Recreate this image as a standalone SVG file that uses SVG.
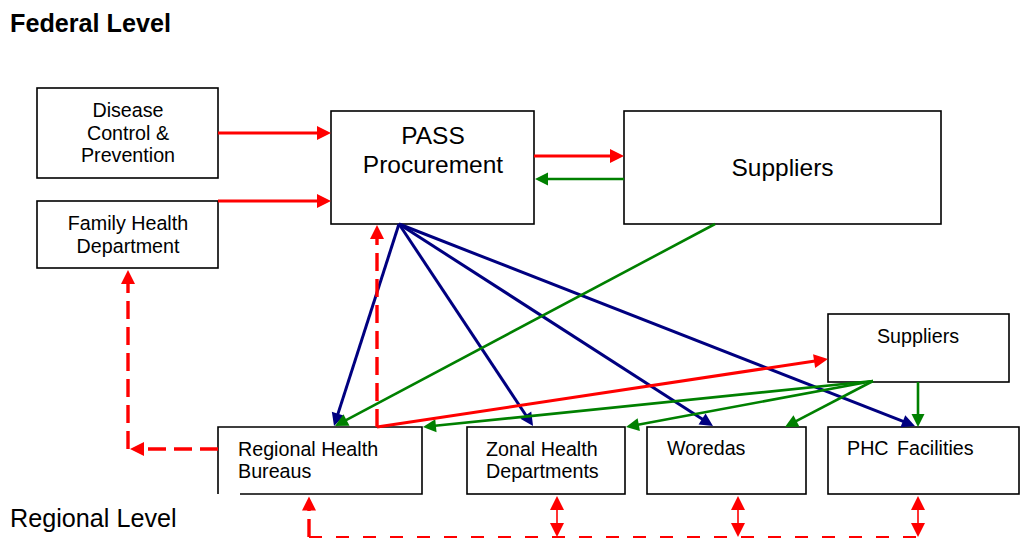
<svg xmlns="http://www.w3.org/2000/svg" width="1021" height="539" viewBox="0 0 1021 539">
  <style>
    .box { fill: #ffffff; stroke: #000000; stroke-width: 1.6; }
    .t { font-family: "Liberation Sans", Arial, sans-serif; fill: #000000; }
    .big { font-size: 24.5px; }
    .small { font-size: 19.7px; }
    .mid { text-anchor: middle; }
    .red { stroke: #ff0000; stroke-width: 3; fill: none; }
    .red-dash { stroke: #ff0000; stroke-width: 3.4; fill: none; stroke-dasharray: 18 8; }
    .red-thin-dash { stroke: #ff0000; stroke-width: 2; fill: none; stroke-dasharray: 13 14; }
    .red-thin { stroke: #ff0000; stroke-width: 1.6; fill: none; }
    .blue { stroke: #000080; stroke-width: 3; fill: none; }
    .green { stroke: #008000; stroke-width: 2.6; fill: none; }
  </style>
  <defs>
    <marker id="headRed" markerUnits="userSpaceOnUse" markerWidth="14" markerHeight="14" viewBox="0 -7 14 14" refX="1" refY="0" orient="auto-start-reverse" overflow="visible">
      <path d="M0,-7 L14,0 L0,7 z" fill="#ff0000"/>
    </marker>
    <marker id="headBlue" markerUnits="userSpaceOnUse" markerWidth="13" markerHeight="13" viewBox="0 -6.5 13 13" refX="1" refY="0" orient="auto" overflow="visible">
      <path d="M0,-6.5 L13,0 L0,6.5 z" fill="#000080"/>
    </marker>
    <marker id="headGreen" markerUnits="userSpaceOnUse" markerWidth="13" markerHeight="13" viewBox="0 -6.5 13 13" refX="1" refY="0" orient="auto" overflow="visible">
      <path d="M0,-6.5 L13,0 L0,6.5 z" fill="#008000"/>
    </marker>
  </defs>

  <!-- level captions -->
  <text class="t" x="10" y="31.5" font-size="25.2" font-weight="bold">Federal Level</text>
  <text class="t" x="10" y="527" font-size="25.2">Regional Level</text>

  <!-- federal nodes -->
  <g id="disease-control">
    <rect class="box" x="37" y="88" width="181" height="90"/>
    <text class="t small mid" x="128" y="116.5">Disease</text>
    <text class="t small mid" x="128" y="139.5">Control &amp;</text>
    <text class="t small mid" x="128" y="162">Prevention</text>
  </g>
  <g id="family-health">
    <rect class="box" x="37" y="201" width="181" height="67"/>
    <text class="t small mid" x="128" y="230">Family Health</text>
    <text class="t small mid" x="128" y="252.5">Department</text>
  </g>
  <g id="pass-procurement">
    <rect class="box" x="331" y="111" width="203" height="113"/>
    <text class="t big mid" x="433" y="144">PASS</text>
    <text class="t big mid" x="433" y="172.5">Procurement</text>
  </g>
  <g id="suppliers-federal">
    <rect class="box" x="624" y="111" width="317" height="113"/>
    <text class="t big mid" x="782.5" y="176">Suppliers</text>
  </g>

  <!-- regional nodes -->
  <g id="suppliers-regional">
    <rect class="box" x="828" y="314" width="181" height="68"/>
    <text class="t small mid" x="918" y="342.5">Suppliers</text>
  </g>
  <g id="regional-health-bureaus">
    <rect x="218" y="427" width="204" height="67" fill="#ffffff"/>
    <path class="box" fill="none" d="M240,494 H422 V427 H218 V494"/>
    <text class="t small" x="238" y="456">Regional Health</text>
    <text class="t small" x="238" y="478">Bureaus</text>
  </g>
  <g id="zonal-health-departments">
    <rect class="box" x="467" y="427" width="158" height="67"/>
    <text class="t small" x="486" y="456">Zonal Health</text>
    <text class="t small" x="486" y="478">Departments</text>
  </g>
  <g id="woredas">
    <rect class="box" x="647" y="427" width="159" height="67"/>
    <text class="t small" x="667" y="455">Woredas</text>
  </g>
  <g id="phc-facilities">
    <rect class="box" x="828" y="427" width="191" height="67"/>
    <text class="t small" x="847" y="455" word-spacing="3">PHC Facilities</text>
  </g>

  <g id="connectors">
    <!-- requests into PASS and to suppliers -->
    <line class="red" x1="218" y1="133" x2="318" y2="133" marker-end="url(#headRed)"/>
    <line class="red" x1="218" y1="201" x2="318" y2="201" marker-end="url(#headRed)"/>
    <line class="red" x1="534" y1="156" x2="611" y2="156" marker-end="url(#headRed)"/>
    <line class="green" x1="624" y1="179" x2="547" y2="179" marker-end="url(#headGreen)"/>

    <!-- PASS distribution -->
    <line class="blue" x1="399" y1="224" x2="337.7" y2="414.6" marker-end="url(#headBlue)"/>
    <line class="blue" x1="399" y1="224" x2="526.4" y2="416" marker-end="url(#headBlue)"/>
    <line class="blue" x1="399" y1="224" x2="702.9" y2="419.5" marker-end="url(#headBlue)"/>
    <line class="blue" x1="399" y1="224" x2="903.8" y2="421.6" marker-end="url(#headBlue)"/>

    <!-- supplier deliveries -->
    <line class="green" x1="715" y1="224" x2="345.6" y2="420.4" marker-end="url(#headGreen)"/>
    <line class="green" x1="873" y1="381" x2="434.9" y2="425.8" marker-end="url(#headGreen)"/>
    <line class="green" x1="873" y1="381" x2="637.8" y2="424.8" marker-end="url(#headGreen)"/>
    <line class="green" x1="873" y1="381" x2="795.6" y2="421.4" marker-end="url(#headGreen)"/>
    <line class="green" x1="918" y1="382" x2="918" y2="415" marker-end="url(#headGreen)"/>

    <!-- regional requests -->
    <line class="red" x1="377" y1="427" x2="815.1" y2="360.9" marker-end="url(#headRed)"/>
    <line class="red-dash" x1="377" y1="427" x2="377" y2="238" marker-end="url(#headRed)"/>

    <!-- reporting to Family Health -->
    <line class="red-dash" x1="218" y1="449" x2="143" y2="449" marker-end="url(#headRed)"/>
    <line class="red-dash" x1="128" y1="449" x2="128" y2="283" marker-end="url(#headRed)"/>

    <!-- regional information loop -->
    <line class="red-dash" x1="309" y1="537" x2="309" y2="509.5" marker-end="url(#headRed)"/>
    <line class="red-thin-dash" x1="309" y1="537" x2="918" y2="537"/>
    <line class="red-thin" x1="557" y1="509" x2="557" y2="524" marker-start="url(#headRed)" marker-end="url(#headRed)"/>
    <line class="red-thin" x1="738" y1="509" x2="738" y2="524" marker-start="url(#headRed)" marker-end="url(#headRed)"/>
    <line class="red-thin" x1="918" y1="509" x2="918" y2="524" marker-start="url(#headRed)" marker-end="url(#headRed)"/>
  </g>
</svg>
